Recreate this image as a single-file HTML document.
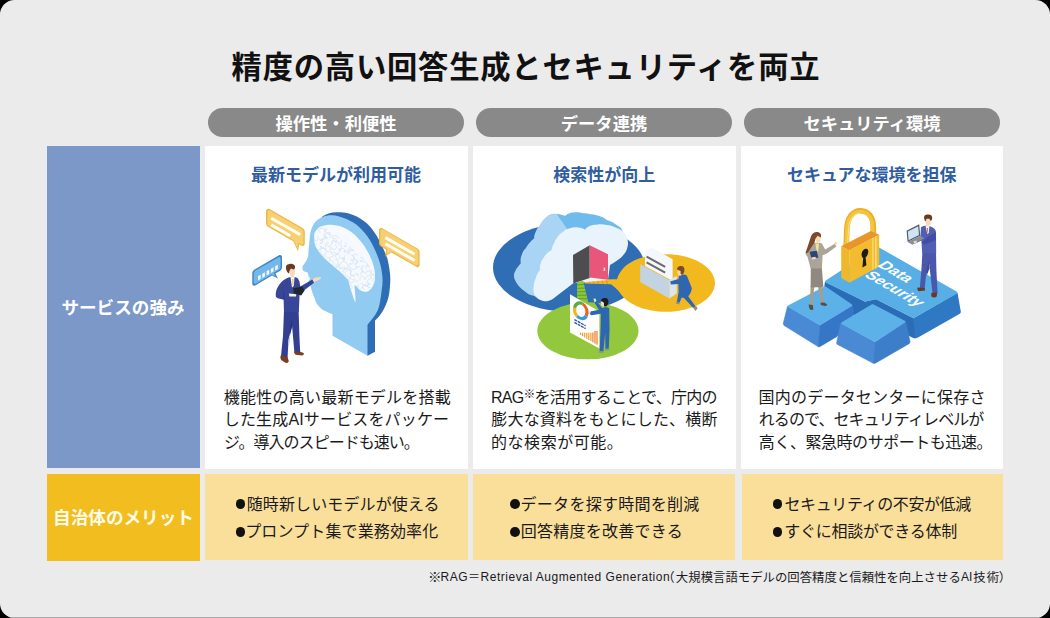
<!DOCTYPE html>
<html lang="ja">
<head>
<meta charset="utf-8">
<title>精度の高い回答生成とセキュリティを両立</title>
<style>
html,body{margin:0;padding:0;background:#000;}
body{width:1050px;height:618px;overflow:hidden;font-family:"Liberation Sans",sans-serif;}
#card{position:absolute;left:0;top:0;width:1050px;height:618px;background:#ebebeb;border-radius:14.5px;overflow:hidden;}
#card:after{content:"";position:absolute;left:0;right:0;bottom:0;height:1px;background:#a9a9a9;}
.box{position:absolute;}
.pill{position:absolute;top:108.2px;height:29.3px;width:256px;border-radius:14.5px;background:#898989;}
.blue{left:47px;top:146px;width:153px;height:322px;background:#7c98c9;}
.yel{left:47px;top:474px;width:153px;height:87px;background:#f1bd1f;}
.wh{top:145.5px;height:323px;background:#fff;}
.ly{top:474.3px;height:86px;background:#fadf9a;}
.l1{left:205.3px;width:262.4px;}
.l2{left:473.4px;width:261.8px;}
.l3{left:741.5px;width:261.2px;}
.c1{left:204.7px;width:263.5px;}
.c2{left:472.8px;width:262.8px;}
.c3{left:741px;width:262.2px;}
.dot{position:absolute;width:9.8px;height:9.8px;border-radius:50%;background:#111;}
svg.txt,svg.ill{position:absolute;left:0;top:0;}
svg.txt text{font-family:"Liberation Sans","Noto Sans CJK JP",sans-serif;}
</style>
</head>
<body>
<div id="card">
<div class="pill" style="left:208px"></div>
<div class="pill" style="left:476px"></div>
<div class="pill" style="left:744px"></div>
<div class="box blue"></div>
<div class="box yel"></div>
<div class="box wh c1"></div>
<div class="box wh c2"></div>
<div class="box wh c3"></div>
<div class="box ly l1"></div>
<div class="box ly l2"></div>
<div class="box ly l3"></div>
<div class="dot" style="left:235.6px;top:499.3px"></div>
<div class="dot" style="left:235.6px;top:526.9px"></div>
<div class="dot" style="left:509.8px;top:499.3px"></div>
<div class="dot" style="left:509.8px;top:526.9px"></div>
<div class="dot" style="left:772.7px;top:499.3px"></div>
<div class="dot" style="left:772.7px;top:526.9px"></div>
<svg class="ill" width="1050" height="618" viewBox="0 0 1050 618">
<g id="ill-ai">
<!-- head rim (dark) -->
<path fill="#2f6db4" d="M321.7 217 C326 213.5 332 212 338 212.3 C347 211.4 358 215.8 367 223.4 C374 230 381.5 242 387.5 259 C389.5 268 390.6 276 390.3 281 C390 287 389.5 293 388.5 297 C387 303 384.5 308.5 381.5 313 C379.5 316 377 318.5 375 320.5 L375 351.7 L367.5 355.8 L350 330 L330 250 Z"/>
<!-- head face (light) -->
<path fill="#92cbf1" d="M323.3 216.7 C327 215 333 214.6 340 216.7 C345 218 349.5 220.3 353.3 222.5 C358 225.5 361.5 229 365 233.3 C369 238.3 372 243.5 374.2 248.3 C377 254 378.8 259 380 263.3 C381.5 268.5 382.2 273.5 382.5 278.3 C382.7 282.5 382.4 286.5 381.7 290 C381 296 380.3 301.5 379.2 305.8 C378 310.5 375.8 314.5 373.3 317.5 C371 320.5 368.5 323 367.5 325 L367.5 355.8 L332.5 335.8 L332.5 314.2 C330.5 313.6 329.5 313 328.3 312.5 C324.5 311 322 309.5 320 307.5 C318 305.5 316.5 303.5 315.8 301.7 C315 299.5 314.2 297 313.3 295 C312.2 292.5 311.5 289.5 310.8 286.7 C310.2 284.5 309 283 308.6 281.7 C308.6 280 310 279.3 310 278.3 C309.8 277.3 308.4 276.8 308.3 275.8 C308.2 274.5 308.3 273.3 307.5 272.5 C306 271.8 304 271.7 303.3 270.8 C302.6 269.6 302.2 268 302.5 266.7 C303.5 264.5 305.5 262.5 306.7 260 C307.7 258 308.2 256.5 308.3 255 C308.4 251 308.8 247 309.2 243.3 C309.5 240 309.8 236.5 310.3 233.3 C311 229.5 312.5 226 314.2 223.3 C316.5 220 320 218 323.3 216.7 Z"/>
<!-- brain -->
<path fill="#f6fafe" d="M314.2 236.7 C313.8 233.5 315 231.5 316.7 230 C318.5 227.5 320.5 226.3 323.3 225.8 C326.5 224.5 330 224.5 333.3 225 C337.5 225.3 341.5 226.5 345 228.3 C349.5 230.5 353.5 233.3 356.7 236.7 C360.8 240.8 364.2 245.3 366.7 250 C369.8 255 372 260 373.3 265 C374.5 269 375.2 273 375 276.7 C375.2 280.5 374.2 284 372.5 286.7 C371 289.5 369 291.2 366.7 291.7 C364.3 292 362 291.3 360 290 C358 288.5 356.3 286.8 355 285 L354.4 286 C355 291 355.6 296.5 355.4 302.5 C353 297 351 291 348.3 280 C345.5 277 342.8 274.3 340 271.7 C336 268.5 332 265 328.3 261.7 C325.3 259 322.5 256.2 320 253.3 C318 250.8 316.2 248 315 245 C314.3 242.3 314.1 239.5 314.2 236.7 Z"/>
<clipPath id="brainclip"><path d="M314.2 236.7 C313.8 233.5 315 231.5 316.7 230 C318.5 227.5 320.5 226.3 323.3 225.8 C326.5 224.5 330 224.5 333.3 225 C337.5 225.3 341.5 226.5 345 228.3 C349.5 230.5 353.5 233.3 356.7 236.7 C360.8 240.8 364.2 245.3 366.7 250 C369.8 255 372 260 373.3 265 C374.5 269 375.2 273 375 276.7 C375.2 280.5 374.2 284 372.5 286.7 C371 289.5 369 291.2 366.7 291.7 C364.3 292 362 291.3 360 290 C358 288.5 356.3 286.8 355 285 L354.4 286 C355 291 355.6 296.5 355.4 302.5 C353 297 351 291 348.3 280 C345.5 277 342.8 274.3 340 271.7 C336 268.5 332 265 328.3 261.7 C325.3 259 322.5 256.2 320 253.3 C318 250.8 316.2 248 315 245 C314.3 242.3 314.1 239.5 314.2 236.7 Z"/></clipPath>
<g clip-path="url(#brainclip)" fill="none" stroke="#cfdfee" stroke-width="0.62" stroke-linecap="round" stroke-linejoin="round"><path d="M311.3 248.4A2.4 2.3 17 0 1 307.4 251.0L307.5 251.7"/><path d="M309.5 247.4A1.9 2.0 4 1 1 311.1 244.0L313.5 246.3"/><path d="M316.6 244.7A1.8 1.3 17 0 1 314.3 241.9L313.0 239.6"/><path d="M317.2 236.0A2.4 2.3 60 0 1 314.6 240.1L314.4 239.0"/><path d="M324.0 234.4A2.6 2.2 26 0 1 322.4 239.3L320.3 240.6"/><path d="M319.9 232.7A2.9 2.1 19 1 1 324.8 229.5L326.9 229.3"/><path d="M329.9 232.1A2.6 2.1 8 1 1 325.5 229.5L324.7 231.9"/><path d="M313.4 256.3A1.9 2.1 16 0 1 311.9 253.2L312.2 252.9"/><path d="M315.8 249.3A2.6 2.3 19 0 1 311.5 247.3L310.3 249.7"/><path d="M321.1 246.3A2.1 2.3 58 0 1 318.7 249.5L316.7 252.0"/><path d="M319.6 239.5A2.2 1.6 8 0 1 320.1 243.7L320.6 242.4"/><path d="M322.4 241.6A3.0 2.9 78 0 1 327.7 239.1L326.1 237.4"/><path d="M327.2 237.4A2.0 2.4 18 1 1 327.4 233.4L329.6 235.3"/><path d="M332.6 235.2A1.8 1.5 63 1 1 330.2 232.5L329.0 234.1"/><path d="M318.7 260.0A2.7 2.2 50 0 1 314.9 257.0L316.7 257.5"/><path d="M319.1 252.8A1.8 1.7 5 0 1 317.2 249.9L315.6 249.2"/><path d="M321.2 253.5A2.9 3.0 62 1 1 325.7 250.1L326.1 248.3"/><path d="M325.1 244.1A2.6 1.9 57 1 1 320.2 245.9L320.2 247.0"/><path d="M331.9 244.2A2.5 2.8 66 1 1 327.6 241.8L328.6 243.2"/><path d="M329.6 237.2A2.9 2.6 71 1 1 331.1 242.7L332.9 243.1"/><path d="M333.1 236.7A2.5 2.6 89 0 1 337.7 237.2L339.6 238.3"/><path d="M319.8 259.3A2.3 1.7 68 1 1 323.6 262.0L321.2 262.5"/><path d="M321.4 253.9A2.4 2.8 23 0 1 323.1 258.4L320.7 257.4"/><path d="M328.9 257.6A2.9 2.7 80 0 1 326.1 252.6L325.2 253.4"/><path d="M328.9 246.1A2.9 2.6 52 1 1 326.1 251.2L325.2 249.4"/><path d="M335.5 245.2A2.7 2.2 15 1 1 331.7 248.8L331.5 247.6"/><path d="M332.1 240.7A2.4 2.7 88 0 1 336.0 243.1L335.8 240.9"/><path d="M341.6 240.7A2.7 2.3 71 0 1 336.4 239.7L334.0 237.9"/><path d="M326.2 263.5A2.1 1.5 57 0 1 325.7 267.3L325.4 268.0"/><path d="M330.0 258.6A2.6 2.5 16 0 1 325.9 261.4L323.4 261.3"/><path d="M331.4 261.1A2.2 2.1 55 1 1 332.1 256.8L333.4 256.2"/><path d="M336.2 254.4A2.9 2.2 41 1 1 331.3 251.2L332.0 253.2"/><path d="M339.5 249.4A2.8 2.6 59 1 1 335.0 252.3L333.5 253.4"/><path d="M338.9 244.7A2.1 2.4 88 1 1 339.1 248.8L339.2 250.2"/><path d="M345.2 242.4A2.2 2.0 50 0 1 344.1 246.3L345.5 246.3"/><path d="M332.2 268.3A2.8 2.4 71 0 1 327.0 268.0L325.2 266.3"/><path d="M332.7 260.8A2.6 2.5 85 1 1 329.1 264.5L327.0 263.1"/><path d="M335.4 259.7A2.6 2.9 50 0 1 336.6 264.7L335.6 264.1"/><path d="M338.7 259.4A2.8 2.7 52 1 1 338.4 253.9L336.9 254.1"/><path d="M344.9 255.7A3.0 2.7 72 0 1 339.0 255.3L339.3 255.3"/><path d="M340.2 250.6A2.3 2.7 24 1 1 344.3 252.5L344.2 250.7"/><path d="M349.9 246.8A2.4 1.9 56 0 1 347.0 250.4L349.1 248.5"/><path d="M334.8 275.3A2.1 1.8 32 1 1 333.4 271.4L334.0 269.4"/><path d="M332.9 267.8A2.1 2.0 39 0 1 336.7 266.8L336.1 266.3"/><path d="M340.4 268.6A2.6 2.5 77 0 1 338.9 263.8L339.4 265.5"/><path d="M341.9 257.0A2.9 2.5 83 0 1 341.2 262.6L339.7 265.1"/><path d="M346.4 262.9A2.7 2.0 75 0 1 344.6 258.1L344.2 259.6"/><path d="M345.3 251.8A1.8 1.9 82 0 1 347.7 254.4L350.0 252.4"/><path d="M349.6 252.1A2.6 1.9 10 0 1 354.3 250.6L352.0 250.8"/><path d="M339.7 277.4A2.0 2.3 89 0 1 336.5 275.3L338.7 273.3"/><path d="M336.4 270.0A2.7 2.5 46 0 1 341.1 267.6L340.8 268.1"/><path d="M344.8 266.6A2.0 2.2 36 0 1 343.1 270.2L341.6 268.6"/><path d="M346.7 263.3A2.8 3.1 57 1 1 342.3 266.6L341.8 267.1"/><path d="M351.5 260.1A2.1 2.3 70 1 1 349.5 263.8L351.1 263.3"/><path d="M351.3 255.2A2.7 2.5 65 1 1 352.8 260.4L350.7 259.6"/><path d="M353.8 259.0A2.6 2.1 85 0 1 356.8 254.8L357.6 254.0"/><path d="M340.7 279.3A2.3 2.3 63 1 1 344.7 281.2L346.0 283.6"/><path d="M342.6 271.5A2.1 1.5 18 0 1 343.6 275.5L343.0 273.5"/><path d="M346.2 271.4A2.4 2.4 90 1 1 350.3 273.7L351.0 275.3"/><path d="M348.8 265.3A1.9 1.4 42 1 1 347.9 268.8L346.3 268.8"/><path d="M356.1 266.6A2.3 2.3 33 0 1 352.0 268.6L350.9 269.4"/><path d="M354.6 259.7A2.2 1.8 4 0 1 357.0 262.8L355.2 264.0"/><path d="M360.5 257.4A1.9 2.2 7 1 1 359.8 261.0L361.8 260.6"/><path d="M347.4 285.1A2.4 2.6 42 1 1 348.1 280.4L350.5 282.0"/><path d="M345.6 277.4A2.3 1.7 48 0 1 349.6 279.3L347.7 279.0"/><path d="M352.6 279.7A2.5 2.7 48 0 1 352.1 274.8L354.6 277.1"/><path d="M355.7 274.4A2.9 2.9 32 1 1 351.7 270.3L350.5 271.2"/><path d="M356.9 268.3A2.7 2.2 88 0 1 361.4 270.7L363.5 272.6"/><path d="M357.6 267.4A2.3 1.7 49 0 1 358.1 262.8L355.9 260.7"/><path d="M363.2 262.3A2.2 1.8 31 0 1 366.7 265.2L367.9 266.9"/><path d="M350.5 284.7A2.5 2.1 38 1 1 348.4 289.3L347.2 290.8"/><path d="M353.9 281.4A2.2 2.4 83 0 1 349.6 282.1L349.2 281.4"/><path d="M358.2 280.3A1.9 1.8 62 0 1 354.7 278.8L353.7 280.2"/><path d="M355.5 273.6A1.9 2.0 62 0 1 358.1 276.1L357.1 274.3"/><path d="M361.4 275.0A1.9 1.9 83 1 1 364.1 272.1L366.3 274.2"/><path d="M363.1 270.4A2.2 2.5 81 0 1 363.7 266.2L362.5 265.5"/><path d="M366.3 268.9A2.3 2.2 72 0 1 368.7 265.3L368.9 267.0"/><path d="M354.9 288.6A2.9 2.0 46 0 1 356.1 294.0L356.3 294.3"/><path d="M357.6 284.5A1.9 2.1 8 0 1 356.6 288.1L354.5 289.3"/><path d="M359.8 284.1A2.0 2.0 22 1 1 362.2 287.2L360.8 288.5"/><path d="M360.4 280.2A2.2 2.3 44 1 1 364.3 278.3L364.5 279.4"/><path d="M365.4 279.0A2.8 3.1 73 0 1 370.1 276.0L371.7 278.0"/><path d="M366.0 272.8A2.7 2.4 38 1 1 371.2 274.1L369.4 275.3"/><path d="M374.4 274.0A2.0 1.7 87 0 1 371.8 270.9L369.6 270.0"/><path d="M359.0 291.8A2.0 1.9 53 0 1 360.0 295.4L362.0 293.0"/><path d="M359.4 291.4A2.1 2.1 20 1 1 358.6 287.3L357.1 286.2"/><path d="M363.9 289.5A2.5 2.3 23 1 1 366.2 285.2L368.1 287.2"/><path d="M368.0 282.0A2.4 1.7 85 0 1 364.2 284.5L365.8 283.9"/><path d="M370.6 284.5A3.0 2.4 1 0 1 371.4 278.6L371.3 278.0"/><path d="M371.1 275.4A2.0 1.7 23 0 1 374.6 276.5L376.5 276.6"/><path d="M377.5 276.9A2.4 2.6 0 0 1 376.3 272.5L377.9 274.3"/><path d="M363.0 302.2A2.7 2.5 42 0 1 361.7 297.5L364.0 297.9"/><path d="M365.1 291.9A2.3 1.7 74 1 1 363.3 296.0L361.9 296.2"/><path d="M369.9 290.5A2.2 1.6 28 0 1 368.8 294.6L368.6 295.7"/><path d="M371.9 287.6A2.3 2.7 75 0 1 368.0 285.4L368.8 283.0"/><path d="M375.4 287.3A2.5 1.7 89 0 1 374.3 282.5L375.8 281.0"/><path d="M374.2 282.4A2.4 2.1 35 0 1 376.6 278.3L377.4 277.1"/><path d="M379.4 280.5A2.9 3.1 30 0 1 381.8 275.2L383.4 273.2"/></g>
<!-- yellow bubble left -->
<g>
<path fill="#e8b84a" d="M266 211.5 C266 209 268 208.2 270 209.3 L302.5 228 C304 229 304.8 230.3 304.8 232 L304.8 243.5 C304.8 245.6 303 246.6 301 245.5 L299.2 244.5 L298 251.2 L293.2 241.2 L268 226.8 C266.8 226 266 224.8 266 223.3 Z"/>
<path fill="#f6d071" d="M267.3 212.4 C267.3 210.4 268.8 209.8 270.4 210.7 L301.6 228.7 C302.8 229.4 303.5 230.6 303.5 232 L303.5 242.4 C303.5 244.2 302 245 300.4 244.1 L298.3 242.9 L297.5 248.6 L293.6 240.2 L269 226 C268 225.4 267.3 224.3 267.3 223 Z"/>
<path stroke="#fffdf3" stroke-width="3" stroke-linecap="butt" fill="none" d="M271.2 218.3 L300.2 234.6 M271.2 224.9 L290.3 235.7"/>
</g>
<!-- yellow bubble right -->
<g>
<path fill="#e8b84a" d="M379 230.5 C379 228.2 380.8 227.4 382.6 228.4 L417.4 248.5 C418.8 249.3 419.6 250.7 419.6 252.3 L419.6 264.6 C419.6 266.8 418 267.8 416.2 266.8 L391.4 252.5 L385.4 256.4 L386 249.4 L381.2 246.6 C379.8 245.8 379 244.5 379 243 Z"/>
<path fill="#f6d071" d="M380.3 231.4 C380.3 229.5 381.7 228.9 383.2 229.8 L416.6 249.1 C417.7 249.8 418.3 250.9 418.3 252.2 L418.3 263.6 C418.3 265.3 417 266 415.6 265.2 L391.6 251.3 L386.8 254.4 L387.2 248.8 L382.2 245.9 C381 245.2 380.3 244 380.3 242.8 Z"/>
<path stroke="#fffdf3" stroke-width="3" fill="none" d="M385.4 237.6 L414.6 254.3 M385.4 243.8 L414.6 260.5"/>
</g>
<!-- blue bubble -->
<g>
<path fill="#3d84c6" d="M252.3 273.4 C252.3 271.6 253.2 270.2 254.6 269.4 L278.6 255.4 C280.4 254.4 282 255.2 282 257.2 L282 267 C282 268.8 281.2 270.2 279.8 271 L275.4 273.6 L278 278.4 L272 275.6 L255.6 285.2 C253.8 286.2 252.3 285.4 252.3 283.4 Z"/>
<path fill="#74b7ea" d="M253.7 273.8 C253.7 272.4 254.4 271.2 255.5 270.6 L278.2 257.4 C279.6 256.6 280.6 257.2 280.6 258.7 L280.6 266.8 C280.6 268.2 280 269.3 278.8 270 L273.6 273 L275.6 276.6 L271.6 274.4 L256.2 283.4 C254.8 284.2 253.7 283.6 253.7 282 Z"/>
<g fill="#f4fbff"><path d="M258 276.2 L260.6 274.7 L260.6 279 L258 280.5Z"/><path d="M262.3 273.7 L264.9 272.2 L264.9 276.5 L262.3 278Z"/><path d="M266.6 271.2 L269.2 269.7 L269.2 274 L266.6 275.5Z"/><path d="M270.9 268.7 L273.5 267.2 L273.5 271.5 L270.9 273Z"/><path d="M275.2 266.2 L277.8 264.7 L277.8 269 L275.2 270.5Z"/></g>
</g>
<!-- man -->
<g>
<!-- legs -->
<path fill="#333f90" d="M284 310 L298.6 310 L299.4 336 L300.2 352.6 L294.4 352.6 L292 325 L288.4 340 L287.6 358 L281 356 L283 336 Z"/>
<path fill="#27357f" d="M291.5 318 L292.4 326 L289.2 338 L288.6 350 L290 330 Z"/>
<!-- shoes -->
<path fill="#7b3f1c" d="M280.8 355.6 L287.6 357.2 L288.8 361.2 C288 363 286.4 363.4 285 362.6 L281.2 360 C280.2 358.6 280.2 357 280.8 355.6 Z"/>
<path fill="#7b3f1c" d="M294.2 351.6 L300.2 351.8 L303.6 353 C304.2 354.2 303.6 355.2 302.4 355.4 L295.6 354.8 C294.4 354.2 294 352.8 294.2 351.6 Z"/>
<!-- jacket -->
<path fill="#38469a" d="M288.6 277.4 C291 276.2 295 276.6 297.6 278.2 C299.2 279.6 300 283 300.2 286.4 L312.4 279.6 L314 282.8 L302 292 L299.6 294.6 L298.8 312 L284 312 L283.6 299.4 C280 299.6 277 298.4 275.8 296.6 C275.4 292.6 276.6 289.2 277.6 287.6 C279.6 283 283.6 279.2 288.6 277.4 Z"/>
<path fill="#2a3988" d="M283.6 299.4 L283.2 290 L285 299 Z M299.6 294.6 L300.2 286.4 L301.4 291.6Z"/>
<!-- shirt / tie -->
<path fill="#f7f5ef" d="M290.4 276.8 L294.6 277 L293.8 286 L292 287.6 Z"/>
<path fill="#d9b24a" d="M292.4 279 L293.4 279 L293.2 285.4 L292.6 285.8 Z"/>
<!-- tablet -->
<path fill="#23252c" d="M293.3 288.3 L302.4 286.4 L304.6 290.4 L301.2 295.4 L293.8 293.2 Z"/>
<!-- hands -->
<path fill="#f6d9b8" d="M312.4 279.4 C314.4 277.6 318 276.8 320.4 277 C321.4 277.6 321 279 319.6 279.6 L314.2 282.2 Z"/>
<path fill="#fbf3ea" d="M288.8 293.6 L296.2 294.3 L296 296.4 L289.4 296.4 Z"/>
<!-- head -->
<path fill="#f6d9b8" d="M289.4 268.6 L294.8 268.8 L294.8 274.2 C294 276 291.8 276.6 290.4 275.6 C289.4 274 289 271 289.4 268.6 Z"/>
<path fill="#6a3a1e" d="M286 268.4 C285.4 266 287 264.2 289.4 264 C292 263.4 294.6 264.2 295 266.6 C295.2 268.2 294.6 269.4 293.4 269.6 L291 268.6 L289.6 270.6 L289 273.4 C287.4 272.6 286.2 270.6 286 268.4 Z"/>
</g>
</g>
</svg>

<svg class="ill" width="1050" height="618" viewBox="0 0 1050 618">
<g id="ill-data">
<!-- big dark ellipse -->
<ellipse cx="569" cy="267.5" rx="76" ry="44" fill="#2f6db4"/>
<!-- green ellipse -->
<ellipse cx="587.9" cy="330.8" rx="50.6" ry="28.5" fill="#93c83e"/>
<!-- yellow ellipse with tail -->
<path fill="#f2b91f" d="M583 279.4 L617 279.2 C619 272 625 266 627 264.8 C636 258 650 254.2 666 254.2 C693 254.2 715 267 715 283 C715 299 693 311.8 666 311.8 C646 311.8 629 304.8 621.5 295 C619.5 292 616 287.5 611 284.2 L585 283.6 Z"/>
<g stroke="#e08a1a" stroke-width="0.9"><path d="M588 279.4 L589.6 283.6 M592.5 279.4 L594.1 283.7 M597 279.4 L598.6 283.8 M601.5 279.3 L603.1 283.9 M606 279.3 L607.6 284"/></g>
<!-- cloud side -->
<path fill="#a9d4f4" d="M514.2 278.3 C513.8 275 514 273 515 271.7 C516.5 268 519 265.5 520.8 263.3 C520.3 260 520.5 257.5 521.7 255 C522.5 252 524 250 525.8 248.3 C528 244 531 241 534.2 238.3 C534 236 534.8 233.5 535.8 231.7 C536.8 229 538.3 226.8 540 225 C542 220.5 545 217.5 548.3 215.4 C551 213.8 554 213.6 556.7 214 C559.5 214.3 562.5 215 565 216 L590 232 L565 285 L552 298 C547 301.5 542 300.5 538.3 298.3 L534.3 296 C530.4 295.4 527.4 293.8 525.6 292 C520 288.4 516 283.6 514.2 278.3 Z"/>
<!-- cloud top -->
<path fill="#6fbbee" d="M556.7 214 C559.5 214.3 562.5 215 565 216 C567.5 213.5 570.5 212.3 573.3 212.4 C576.8 211.8 580.5 212.3 583.3 213.2 C585.8 213 588 213.4 590 214.2 C593 214.2 596 214.8 598.3 215.8 C601.5 216.5 604.3 218 606.7 220 C610.5 221 614 222.8 616.7 225 C619 226.2 620.6 227.6 621.7 229.2 L624 236 L600 240 L572 236 Z"/>
<!-- cloud front -->
<path fill="#e9f3fc" d="M534.2 294.4 C533.2 291.6 533.2 288.5 533.7 286.7 C533.8 283.5 534.6 280.5 535.8 278.3 C536.6 275 538 272.3 540 270 C539.6 267.5 540 265.2 540.8 263.3 C541.3 261.3 542.2 259.6 543.3 258.3 C545 254.8 548.3 251.8 551.7 250 C551.8 247.5 552.8 245.2 554.2 243.3 C554.6 241.4 555.5 239.7 556.7 238.3 C558.2 235.4 560.5 233.2 563.3 231.7 C565 229.8 567.4 228.7 570 228.3 C572.5 227.3 575.5 227 578.3 227.5 C580.8 227.6 583.2 228.4 585 229.7 C585.8 228.3 587 227.2 588.3 226.7 C590.8 225.2 593.8 224.6 596.7 224.7 C600 224 603.5 224.2 606.7 225 C610.3 225.3 613.8 226.4 616.7 228 C619.4 228.8 621.8 230.4 623.3 232.5 C625.2 234 626.5 236 627 238.3 C628.2 241 628.4 244 627.5 246.7 C627 249.8 625.5 252.7 623.3 255 C621.5 257.3 619.3 259.3 616.7 260.8 C614.6 262.4 612.4 263.8 610 265 L608 280 L573.3 283.3 L553.4 298.4 C550.4 300.6 546.4 301.8 543 301 C539.4 300 536 297.6 534.2 294.4 Z"/>
<!-- door -->
<path fill="#4d4d4f" d="M573 255 L589.7 245.3 L589.7 278 L573.3 283.5 Z"/>
<path fill="#e8577a" d="M589.7 245.3 L608 254.3 L608 279.8 L589.7 277.6 Z"/>
<rect x="603.6" y="267.6" width="1.6" height="3.4" fill="#f5d7df"/>
<!-- green ladder -->
<path fill="#8cc63f" d="M577.2 282 L583.2 280.8 L588.6 304 L577 302 Z"/>
<g stroke="#4f9a2c" stroke-width="0.9"><path d="M577.3 285 L584.2 284.4 M577.3 288.4 L585 288 M577.3 291.8 L585.8 291.6 M577.2 295.2 L586.6 295.2 M577.2 298.6 L587.4 298.8"/></g>
<!-- chart board -->
<path fill="#fdfdfd" d="M570 294.2 L599.4 311.6 L599.4 348.6 L570 332.6 Z"/>
<g fill="none" stroke-width="3.2" transform="matrix(1 0.25 0 1 0 -145.2)">
<path stroke="#5baa46" d="M574.6 309.4 A6.3 7.6 0 0 1 582.6 303.4"/>
<path stroke="#e8602c" d="M582.6 303.4 A6.3 7.6 0 0 1 586.2 314.6"/>
<path stroke="#3a9ad9" d="M586.2 314.6 A6.3 7.6 0 0 1 577 317"/>
<path stroke="#f0b429" d="M577 317 A6.3 7.6 0 0 1 574.6 309.4"/>
</g>
<path stroke="#2b4fa0" stroke-width="1.3" fill="none" stroke-dasharray="3 0.8" d="M574.4 319.6 L585.6 325.8 M574.4 322.4 L585.6 328.6"/>
<g stroke-width="1.15" fill="none"><path stroke="#f39a1e" d="M580.6 335.0V332.8"/><path stroke="#f39a1e" d="M582.6 336.2V332.8"/><path stroke="#f39a1e" d="M584.7 337.4V332.7"/><path stroke="#f39a1e" d="M586.8 338.7V332.7"/><path stroke="#f39a1e" d="M588.8 339.9V332.7"/><path stroke="#f39a1e" d="M590.9 341.1V332.7"/><path stroke="#ee7420" d="M592.9 342.3V332.6"/><path stroke="#ee7420" d="M595.0 343.5V331.1"/><path stroke="#ee7420" d="M597.0 344.8V331.1"/></g>
<!-- person 3 at board -->
<g>
<path fill="#2d66b1" d="M601 309 C603 307.2 607.4 306.8 609.2 308.2 L609.6 329 L608.8 348.6 L605.4 349.4 L605.2 333 L603.4 351.6 L599.6 351.8 L600.6 329 Z"/>
<path fill="#2d66b1" d="M602.4 309 L590.4 311.6 L589.6 314 L591.4 315.2 L602.6 313.4 Z"/>
<path fill="#2d66b1" d="M602.6 308.6 L596.4 300.8 L594.4 302.4 L600 311.6 Z"/>
<path fill="#f6d9b8" d="M593.4 298.4 L595.8 298.8 L596.4 301 L594.4 302.4 Z M589.2 311 L590.6 311.6 L590 314 L588.8 313.2 Z"/>
<path fill="#f6d9b8" d="M600.8 301.6 L604 301.6 L604 306.6 L602 306.6 C601 305.4 600.6 303.4 600.8 301.6 Z"/>
<path fill="#1d1d1f" d="M601 301 C601 298.8 603 297.8 605 298 C607.4 298 608.6 299.6 608.4 302 C608.4 304 607.4 305.8 606 306.4 L604 306 L604 303 L602.6 301.6 Z"/>
<path fill="#8d8d8d" d="M599.2 351 L603.6 351 L603.6 352.8 L598.6 352.8 Z M605.2 348.6 L609 348.4 L609.6 350 L605.4 350.4 Z"/>
</g>
<!-- folder + document -->
<path fill="#f4f7fb" d="M645 250.4 L651.8 247.4 L672.6 259.2 L672.6 281 L645 266 Z"/>
<path stroke="#6b6b6e" stroke-width="2.1" fill="none" d="M646.6 256.6 L665.2 266.8 M646.6 262.4 L665.2 272.6"/>
<path fill="#c3d3e2" d="M640.2 264.2 L669.4 280 L669.4 298.6 L640.2 282 Z"/>
<path fill="#dbe5ee" d="M669.4 280 L676.8 275.8 L676.8 293.6 L669.4 298.6 Z"/>
<!-- person 2 pushing -->
<g>
<path fill="#2d66b1" d="M679 275.6 C681.6 274 685 274.2 686.8 275.4 L691.8 288 C691.6 291.4 690 294.4 688.2 296.2 L695.6 306.4 L693.2 308 L684 298 L681.6 297.4 L679.6 302.8 L676.8 302.2 L678.6 292 L678.4 284 L670.6 284.4 L670 281.6 L678.6 279 Z"/>
<path fill="#f6d9b8" d="M677.4 270.6 L681 271 L681.4 275.4 L679 275.8 C677.8 274.4 677.2 272.4 677.4 270.6 Z M668.6 281.4 L670.2 281.4 L670.6 284.4 L669 284.4 Z"/>
<path fill="#7a4a21" d="M677 269.4 C677 267 679 265.8 681 266 C683.4 266 684.6 267.6 684.4 270 C684.4 272 683.6 273.6 682.4 274.4 L680.6 274 L680.6 271 L678.6 270 Z"/>
<path fill="#8d8d8d" d="M693.2 307.4 L696 305.8 L697.6 308.6 L695.2 311 Z M676.4 301.8 L679.6 302.4 L679.2 304.4 L676 303.8 Z"/>
</g>
</g>
</svg>

<svg class="ill" width="1050" height="618" viewBox="0 0 1050 618">
<g id="ill-sec" stroke-linejoin="round">
<!-- big key: sides -->
<path fill="#2f78c4" d="M825 281.7 L865 301.7 L875.8 299.2 L913.3 318.3 L957.5 292.8 L960.8 311.5 C960.9 312.6 960.4 313.4 959.4 314 L918 337.6 C916 338.7 914 338.6 912 337.6 L876 318 L866 321 L823.5 299.5 Z"/>
<path fill="#2a6cb6" d="M825 281.7 L865 301.7 L875.8 299.2 L913.3 318.3 L915 338.3 L876 318 L866 321 L823.5 299.5 Z"/>
<!-- big key: top -->
<path fill="#58afe6" stroke="#58afe6" stroke-width="2.4" d="M826.4 281.6 L877.6 248 L956 292.6 L913.3 317 L876 298 L865.2 300.4 Z"/>
<!-- key A -->
<path fill="#3577c6" d="M836 318 L853 306 L853.5 325 L838 338 Z"/>
<path fill="#4a8ad4" stroke="#4a8ad4" stroke-width="0.6" d="M787.5 306.3 L820 325.3 L818.3 346.7 L784.2 325.6 C783.3 324.8 783.2 324 783.4 323 Z"/>
<path fill="#3577c6" stroke="#3577c6" stroke-width="0.6" d="M820 325.3 L852.5 305.3 L853.5 311 L840 331 L837 336.4 L820.6 346.2 C819.6 346.8 819 346.9 818.3 346.7 Z"/>
<path fill="#5cb2e8" stroke="#5cb2e8" stroke-width="2.4" d="M789 306.3 L825 287.6 L851 305.3 L820 324 Z"/>
<!-- key B -->
<path fill="#4a8ad4" stroke="#4a8ad4" stroke-width="0.6" d="M840.8 323.3 L875 342 L873.3 363.3 L837.4 344.4 C836.7 343.8 836.5 343.2 836.7 342.4 Z"/>
<path fill="#3d7ecb" stroke="#3d7ecb" stroke-width="0.6" d="M875 342 L905.8 321.7 L910 341.6 C910.1 342.6 909.7 343.2 909 343.7 L876.2 362.7 C875.2 363.3 874.2 363.5 873.3 363.3 Z"/>
<path fill="#5cb2e8" stroke="#5cb2e8" stroke-width="2.4" d="M842.4 323.3 L872.6 305.4 L904.2 321.7 L875 340.6 Z"/>
<!-- Data Security text placeholder: DATASEC -->
<!--DATASEC-->
<!-- padlock shackle -->
<path fill="none" stroke="#e9ae25" stroke-width="5.6" d="M846.2 247 L846.8 229 C847.4 217 853.4 210.6 860.6 210.8 C868.6 211 873 217.4 873.2 226 L873.4 234"/>
<path fill="none" stroke="#f4c53a" stroke-width="3.6" d="M846.4 247 L847 229 C847.6 217.6 853.6 211.4 860.4 211.6 C867.8 211.8 872.2 217.8 872.6 226 L872.8 234"/>
<path fill="none" stroke="#fae08a" stroke-width="1.1" d="M847.8 243 L848.4 229.4 C849 219.6 854.2 213.4 860 213.4"/>
<!-- padlock body -->
<path fill="#e8952a" d="M841.2 246.3 L870.8 231 L879.2 234.7 L849.2 250.4 Z"/>
<path fill="#efb72b" d="M841.2 246.3 L849.2 250.2 L849.2 282.4 L842.4 278.8 C841.5 278.2 841.2 277.6 841.2 276.8 Z"/>
<path fill="#f2bc2e" d="M849.2 250.2 L879.2 234.7 L879.2 266.4 L850.6 281.9 C849.9 282.3 849.5 282.4 849.2 282.4 Z"/>
<path fill="#f9dc7c" d="M872.3 238.3 L873.5 237.7 L873.5 269.5 L872.3 270.1 Z M875 236.9 L876.6 236.1 L876.6 267.8 L875 268.7 Z"/>
<path fill="#1b1b1d" d="M861.6 254.6 C861.6 251.8 863.6 249.2 865.6 248.8 C867.6 248.5 868.6 250.2 868.2 252.6 C867.9 254.6 866.8 256.4 865.6 257.2 L866.4 265.2 L862.4 267.6 L863.2 258.2 C862.2 257.6 861.6 256.2 861.6 254.6 Z"/>
<!-- woman -->
<g>
<path fill="#a99d8a" d="M810.6 286 L814.4 286 L813.2 297 L812.6 306 L810 306 L810.2 296 Z M818 286 L822.4 286 L822.6 296 L824 303.4 L821.4 303.8 L819.4 296 Z"/>
<path fill="#5a4e44" d="M808.6 304.6 L812.8 305 L813.4 309.6 C812 310.4 810.4 310 809.4 308.8 Z M820.4 302.8 L824.2 302.4 L827.2 304.6 C827 305.8 826 306.2 824.8 306 L820.8 305 Z"/>
<path fill="#8f897f" d="M810.8 267.6 L821.8 267.6 L823.4 287 L810.6 287.4 Z"/>
<path fill="#aaa499" d="M811.7 244.2 C814.6 242.6 819 242.4 821.7 243.3 L825.2 249.6 L834.8 243.8 L836.4 246.6 L826.8 253.6 L822.6 255.2 L821.9 268.6 L810.6 268.6 L807.5 256.7 L805.8 254.6 C806.6 250.4 808.6 246.4 811.7 244.2 Z"/>
<path fill="#efe39c" d="M815.4 243.4 L819 243.6 L818.2 252 L816.4 250 Z"/>
<path fill="#f6d9b8" d="M834.2 242.4 L836.4 241.6 L837.4 243.6 L836 245.4 L834.8 244.6 Z"/>
<path fill="#27477b" d="M809.6 251.8 L816.6 250.8 L818.4 257.4 L811.6 258.6 Z"/>
<path fill="#f6d9b8" d="M811.4 257.4 L815.6 256.8 L815.8 259 L811.8 259.6 Z"/>
<path fill="#f6d9b8" d="M815.8 235.6 L820.8 236.6 L820.4 241.6 C819.4 243 817.4 243.2 816.2 242 Z"/>
<path fill="#7a4a2a" d="M814.2 232.6 C816.4 231.6 819.4 232 820.6 233.8 C821.2 235 821.2 236.6 820.8 237.6 L817.6 235.8 L815.6 238.4 L814.4 243 L811.8 246.6 L808 252.6 L805.3 253.4 L808.2 245 L810.6 237.6 C811.2 235.4 812.4 233.6 814.2 232.6 Z"/>
</g>
<!-- man with laptop -->
<g>
<path fill="#4a57ab" d="M922.4 252 L936 252 L936.4 270 L937.6 293.6 L932.6 294 L929.2 264 L926 276 L924.6 289 L919.8 288.4 L921.4 270 Z"/>
<path fill="#3c4a9c" d="M928.8 262 L929.6 268 L926.6 276 L926.4 270 Z"/>
<path fill="#6b3a1e" d="M917.4 287.6 L924.6 288 L925.2 290.6 L918.4 291.2 C917.4 290.4 917.2 288.8 917.4 287.6 Z M931.2 293 L937 292.6 L936.8 296.4 C935.4 297.8 933 297.8 931.4 296.6 Z"/>
<path fill="#505fb4" d="M921 227.2 C923.6 225.6 928 225.4 930.6 226.4 C933.8 227.4 935.8 229.4 936 232 L936.2 253.6 L922.2 253.6 L921.4 240.6 L915.4 243.4 L914.4 240.6 L920.4 236.6 Z"/>
<path fill="#3f4ea4" d="M929 236 L935.6 232.6 L936 240 L924.6 244.4 L921.6 242.6 Z"/>
<path fill="#f4f1ea" d="M925.6 225.8 L929.4 226 L928.8 233 L927.2 234 Z"/>
<path fill="#d06a3a" d="M927 228 L928 228 L927.8 232.6 L927.2 233 Z"/>
<path fill="#f6d9b8" d="M925.6 218.4 L930.6 218.6 L930.8 224 C930 225.8 927.6 226.2 926.4 225 C925.6 223.2 925.4 220.6 925.6 218.4 Z"/>
<path fill="#6a3a1e" d="M924.2 218.4 C923.6 216 925.4 214.6 927.6 214.6 C930.2 214.2 932.2 215.4 932.2 217.8 C932.2 219.4 931.6 220.6 930.8 221 L929.4 218.8 L926.4 218.8 L925.6 221.6 C924.8 220.8 924.4 219.6 924.2 218.4 Z"/>
<!-- laptop -->
<path fill="#4b5a6b" d="M906.6 230.8 L919.2 224.2 L920.2 235.8 L907.6 242 Z"/>
<path fill="#cfe3f3" d="M907.8 231.6 L918.2 226.2 L919 235 L908.6 240.2 Z"/>
<path fill="#8a8f98" d="M907.6 242 L920.2 235.8 L924.2 238.2 L912.4 244.8 Z"/>
<path fill="#f6d9b8" d="M913.4 241.6 L916.4 240.4 L917 242.6 L914.2 243.6 Z"/>
</g>
</g>
</svg>

<svg class="txt" width="1050" height="618" viewBox="0 0 1050 618">
<text x="231.55" y="78.1" font-size="30.3" font-weight="700" fill="#111" textLength="588">精度の高い回答生成とセキュリティを両立</text>

<text x="336" y="130.07" font-size="17.3" font-weight="700" fill="#fff" text-anchor="middle">操作性・利便性</text>
<text x="604" y="130.21" font-size="17.3" font-weight="700" fill="#fff" text-anchor="middle">データ連携</text>
<text x="872" y="130.02" font-size="17.3" font-weight="700" fill="#fff" text-anchor="middle">セキュリティ環境</text>

<text x="123" y="314.19" font-size="17.6" font-weight="700" fill="#fff" text-anchor="middle">サービスの強み</text>
<text x="123.5" y="523.97" font-size="17.6" font-weight="700" fill="#fffbe8" text-anchor="middle">自治体のメリット</text>

<text x="336" y="181.28" font-size="17" font-weight="700" fill="#2f5d9f" text-anchor="middle">最新モデルが利用可能</text>
<text x="604.2" y="181.25" font-size="17" font-weight="700" fill="#2f5d9f" text-anchor="middle">検索性が向上</text>
<text x="871.8" y="181.13" font-size="17" font-weight="700" fill="#2f5d9f" text-anchor="middle">セキュアな環境を担保</text>

<text x="223.8" y="402.74" font-size="16" fill="#1a1a1a" textLength="227">機能性の高い最新モデルを搭載</text>
<text x="223.8" y="425.32" font-size="16" fill="#1a1a1a" textLength="225.3">した生成AIサービスをパッケー</text>
<text x="223.99" y="448" font-size="16" fill="#1a1a1a" textLength="195.8">ジ。導入のスピードも速い。</text>

<text x="490.98" y="402.7" font-size="16" fill="#1a1a1a" textLength="226.6">RAG<tspan font-size="11.8" dy="-4.8">※</tspan><tspan dy="4.8">を活用することで、庁内の</tspan></text>
<text x="491.29" y="425.31" font-size="16" fill="#1a1a1a" textLength="226.2">膨大な資料をもとにした、横断</text>
<text x="491.01" y="447.99" font-size="16" fill="#1a1a1a" textLength="131.8">的な検索が可能。</text>

<text x="758.52" y="402.76" font-size="16" fill="#1a1a1a" textLength="226.9">国内のデータセンターに保存さ</text>
<text x="758.72" y="425.44" font-size="16" fill="#1a1a1a" textLength="225.6">れるので、セキュリティレベルが</text>
<text x="758.86" y="448.05" font-size="16" fill="#1a1a1a" textLength="233.6">高く、緊急時のサポートも迅速。</text>

<text x="246.64" y="510.44" font-size="16" fill="#1a1a1a" textLength="193">随時新しいモデルが使える</text>
<text x="245.2" y="537.06" font-size="16" fill="#1a1a1a" textLength="193">プロンプト集で業務効率化</text>
<text x="520.6" y="510.46" font-size="16" fill="#1a1a1a" textLength="178.6">データを探す時間を削減</text>
<text x="520.69" y="537.17" font-size="16" fill="#1a1a1a" textLength="162">回答精度を改善できる</text>
<text x="784.44" y="510.41" font-size="16" fill="#1a1a1a" textLength="186.8">セキュリティの不安が低減</text>
<text x="784.27" y="537.12" font-size="16" fill="#1a1a1a" textLength="172.9">すぐに相談ができる体制</text>

<text x="428.1" y="581.87" font-size="13.6" fill="#1a1a1a">※</text>
<text x="440.57" y="580.9" font-size="12" fill="#1a1a1a" textLength="229">RAG＝Retrieval Augmented Generation</text>
<text x="662.2" y="581.71" font-size="12.4" fill="#1a1a1a">（</text>
<text x="675.87" y="581.78" font-size="12.4" fill="#1a1a1a" textLength="284.9">大規模言語モデルの回答精度と信頼性を向上させる</text>
<text x="960.88" y="580.9" font-size="12" fill="#1a1a1a">AI</text>
<text x="973.14" y="581.71" font-size="12.4" fill="#1a1a1a" textLength="26">技術</text>
<text x="998.7" y="581.71" font-size="12.4" fill="#1a1a1a">）</text>

<text x="0" y="0" font-size="10" font-weight="700" fill="#fff" transform="matrix(1.368,0.79,-1.368,0.79,876.8,265.8)">Data</text>
<text x="0" y="0" font-size="10" font-weight="700" fill="#fff" transform="matrix(1.368,0.79,-1.368,0.79,863.5,275.8)">Security</text>
</svg>

</div>
</body>
</html>
